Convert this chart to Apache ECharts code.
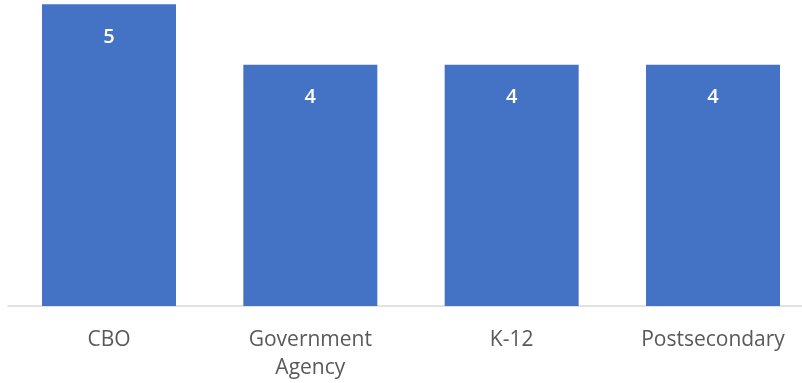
<!DOCTYPE html>
<html>
<head>
<meta charset="utf-8">
<script src="https://cdn.jsdelivr.net/npm/echarts@6/dist/echarts.min.js"></script>
<style>html,body{margin:0;padding:0;background:#fff;}#c{width:802px;height:383px;}</style>
</head>
<body>
<div id="c"></div>
<script>
const categories = ['CBO', 'Government\nAgency', 'K-12', 'Postsecondary'];
const values = [5, 4, 4, 4];

const chart = echarts.init(document.getElementById('c'), null, {renderer: 'canvas'});
chart.setOption({
  animation: false,
  grid: [
    {left: 109, top: 4.3, right: 89, bottom: 77, containLabel: false},
    {left: 8, top: 4.3, right: 0, bottom: 77, containLabel: false}
  ],
  xAxis: [{
    type: 'category',
    gridIndex: 0,
    data: categories,
    boundaryGap: false,
    axisLine: {show: false},
    axisTick: {show: false},
    axisLabel: {
      color: '#595959',
      fontFamily: 'Open Sans',
      fontSize: 21,
      lineHeight: 28,
      margin: 20,
      interval: 0
    }
  }, {
    type: 'category',
    gridIndex: 1,
    data: [''],
    axisLine: {lineStyle: {color: '#d9d9d9', width: 1.5}},
    axisTick: {show: false},
    axisLabel: {show: false}
  }],
  yAxis: [{
    type: 'value',
    gridIndex: 0,
    min: 0,
    max: 5,
    show: false,
    splitLine: {show: false}
  }, {
    type: 'value',
    gridIndex: 1,
    min: 0,
    max: 5,
    show: false,
    splitLine: {show: false}
  }],
  series: [{
    type: 'bar',
    xAxisIndex: 0,
    yAxisIndex: 0,
    data: values,
    barWidth: 134,
    clip: false,
    z: 3,
    itemStyle: {color: '#4472c4'},
    label: {
      show: true,
      position: 'insideTop',
      distance: 23,
      color: '#ffffff',
      fontFamily: 'Open Sans',
      fontWeight: 600,
      fontSize: 20
    }
  }]
});
</script>
</body>
</html>
